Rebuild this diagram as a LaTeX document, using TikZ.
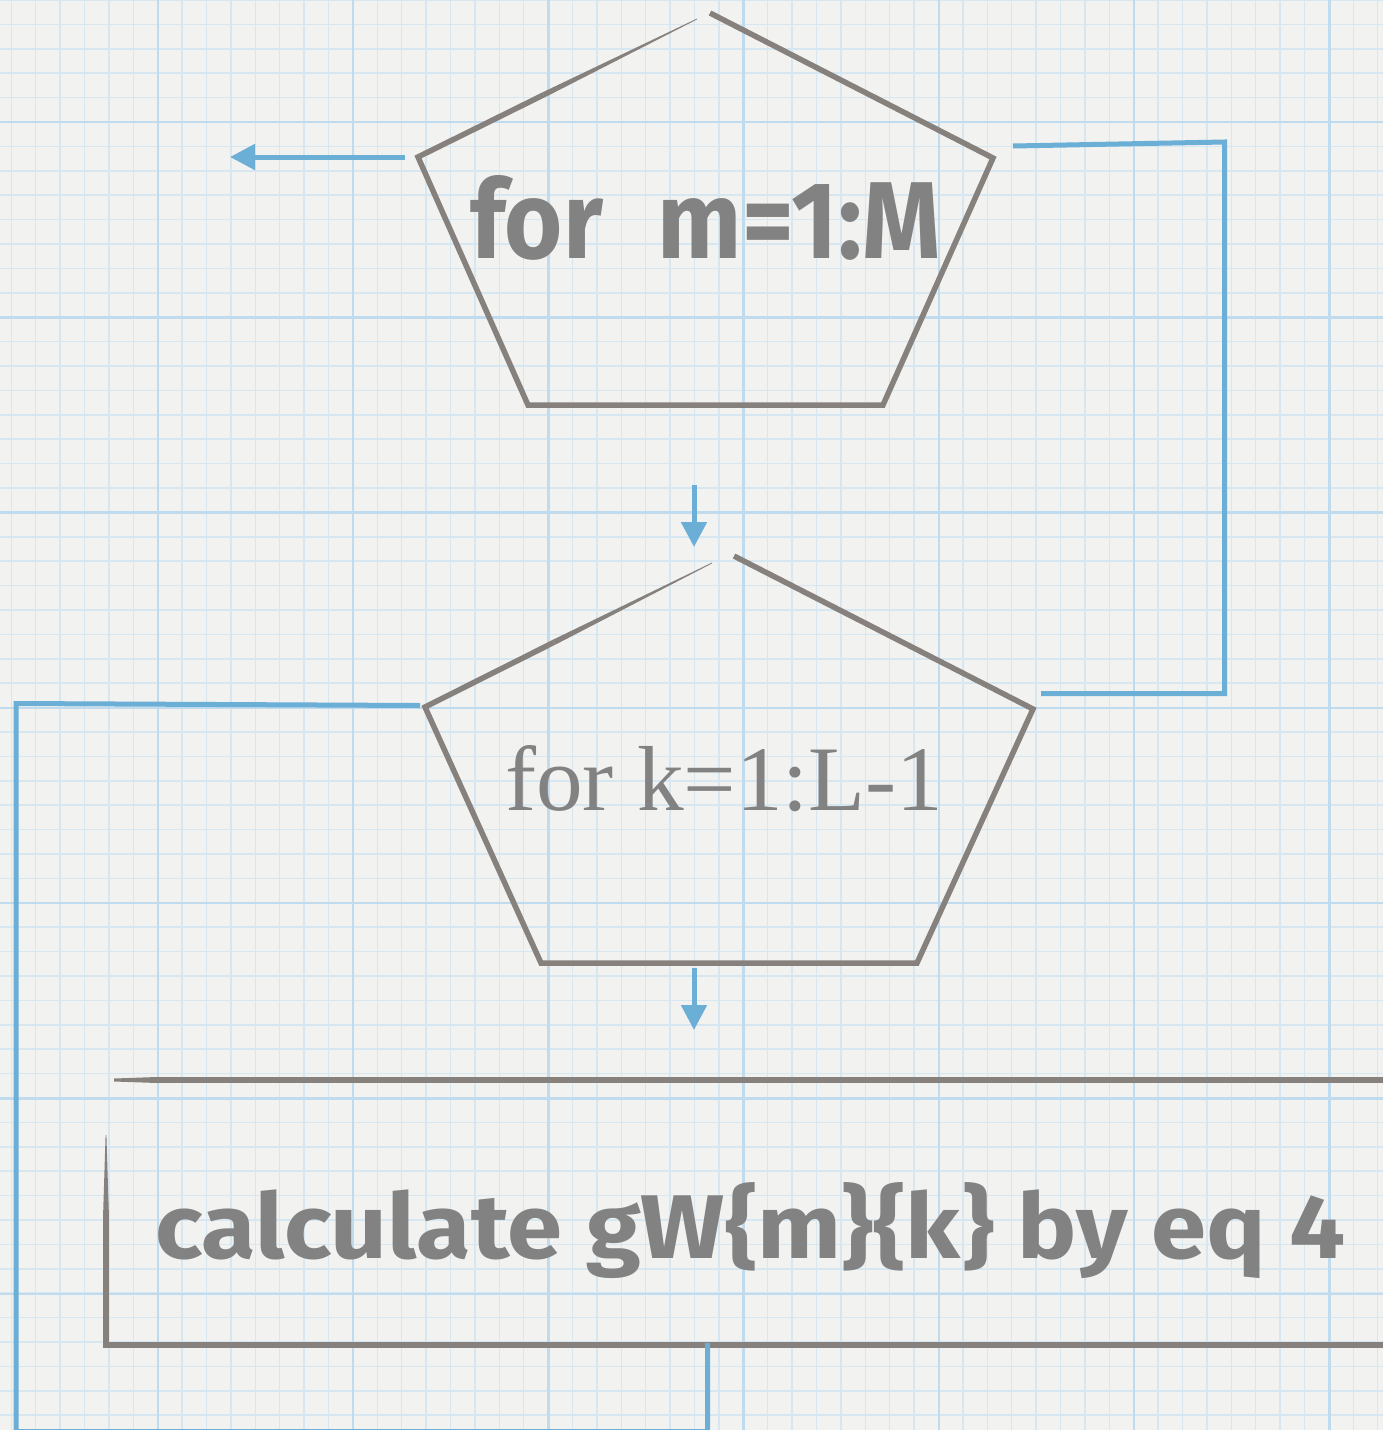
\documentclass[tikz,border=0pt]{standalone}
\usepackage{fontspec}
\usepackage{graphicx}
\setmainfont{Liberation Serif}
\newfontfamily\markerfont{Fira Sans}
\usetikzlibrary{calc,arrows.meta}
\definecolor{paper}{HTML}{F2F2F1}
\definecolor{gridminor}{HTML}{D6E7F2}
\definecolor{gridmajor}{HTML}{C0DAEE}
\definecolor{edge}{HTML}{86817D}
\definecolor{flow}{HTML}{6BAED6}
\definecolor{ink}{HTML}{828282}
\newcommand\taperline[5]{%
  \fill[#5] ($(#1)!#3!90:(#2)$) -- ($(#2)!#4!-90:(#1)$) -- ($(#2)!#4!90:(#1)$) -- ($(#1)!#3!-90:(#2)$) -- cycle;}
\begin{document}
\begin{tikzpicture}[x=1pt,y=-1pt,
  minorline/.style={gridminor,line width=1.5pt},
  majorline/.style={gridmajor,line width=2.4pt},
  shapeline/.style={edge,line width=5.5pt,line join=miter},
  flowline/.style={flow,line width=5pt,line join=miter},
  flowarrow/.style={flowline,-{Triangle[length=25pt,width=25pt]}},
  labeltext/.style={text=ink,inner sep=0pt,anchor=base west}]
\useasboundingbox (0,0) rectangle (1383,1430);
\clip (0,0) rectangle (1383,1430);
\fill[paper] (0,0) rectangle (1383,1430);
% graph paper
\foreach \i in {0,...,56} \draw[minorline] ({11.3+24.4*\i},0) -- ({11.3+24.4*\i},1430);
\foreach \j in {0,...,58} \draw[minorline] (0,{24.4*\j}) -- (1383,{24.4*\j});
\foreach \i in {0,...,6} \draw[majorline] ({157.7+195.3*\i},0) -- ({157.7+195.3*\i},1430);
\foreach \j in {0,...,6} \draw[majorline] (0,{122+195.3*\j}) -- (1383,{122+195.3*\j});
% pentagon 1
\coordinate (p1L) at (418,157);
\coordinate (p1T) at (710,13);
\coordinate (p1R) at (993,158);
\coordinate (p1BR) at (883,405);
\coordinate (p1BL) at (528,405);
\coordinate (p1Tl) at (697,19);
\coordinate (p1Lm) at ($(p1L)!0.45!(p1Tl)$);
\draw[shapeline] (p1Lm) -- (p1L) -- (p1BL) -- (p1BR) -- (p1R) -- (p1T);
\taperline{p1Lm}{p1Tl}{2.75pt}{0.4pt}{edge}
% pentagon 2
\coordinate (p2L) at (425,707);
\coordinate (p2T) at (734,556);
\coordinate (p2R) at (1033,709);
\coordinate (p2BR) at (917,963);
\coordinate (p2BL) at (541,963);
\coordinate (p2Tl) at (712,563);
\coordinate (p2Lm) at ($(p2L)!0.45!(p2Tl)$);
\draw[shapeline] (p2Lm) -- (p2L) -- (p2BL) -- (p2BR) -- (p2R) -- (p2T);
\taperline{p2Lm}{p2Tl}{2.75pt}{0.4pt}{edge}
% process box (open to the right)
\coordinate (bxBL) at (106,1345);
\coordinate (bxBR) at (1395,1345);
\coordinate (bxLm) at (106,1210);
\coordinate (bxLt) at (106,1135);
\coordinate (bxTm) at (150,1080);
\coordinate (bxTl) at (114,1080);
\coordinate (bxTR) at (1395,1080);
\draw[shapeline] (bxLm) -- (bxBL) -- (bxBR);
\taperline{bxLm}{bxLt}{2.75pt}{0.4pt}{edge}
\draw[shapeline] (bxTm) -- (bxTR);
\taperline{bxTm}{bxTl}{2.75pt}{1.5pt}{edge}
% texts
\node[labeltext] (t1) at (470,258) {\resizebox{470pt}{83pt}{\markerfont\bfseries for\hspace{0.55em}m=1:M}};
\node[labeltext] (t2) at (505,810) {\resizebox{438pt}{65pt}{for k=1:L-1}};
\node[labeltext] (t3) at (155,1258) {\resizebox{1190pt}{76pt}{\markerfont\bfseries calculate gW\{m\}\{k\} by eq 4}};
% connectors
\coordinate (a1s) at (405,157);
\coordinate (a1e) at (230,157);
\draw[flowarrow] (a1s) -- (a1e);
\coordinate (r1) at (1013,146);
\coordinate (r2) at (1224.5,142);
\coordinate (r3) at (1224.5,693.5);
\coordinate (r4) at (1041,693.5);
\draw[flowline] (r1) -- (r2) -- (r3) -- (r4);
\coordinate (a2s) at (694,485);
\coordinate (a2e) at (694,547);
\draw[flowarrow] (a2s) -- (a2e);
\coordinate (a3s) at (694,968);
\coordinate (a3e) at (694,1030);
\draw[flowarrow] (a3s) -- (a3e);
\coordinate (l1) at (420,705.5);
\coordinate (l2) at (16,703.5);
\coordinate (l3) at (16,1431.5);
\coordinate (l4) at (707.5,1431.5);
\coordinate (l5) at (707.5,1343);
\draw[flowline] (l1) -- (l2) -- (l3) -- (l4) -- (l5);
\end{tikzpicture}
\end{document}
